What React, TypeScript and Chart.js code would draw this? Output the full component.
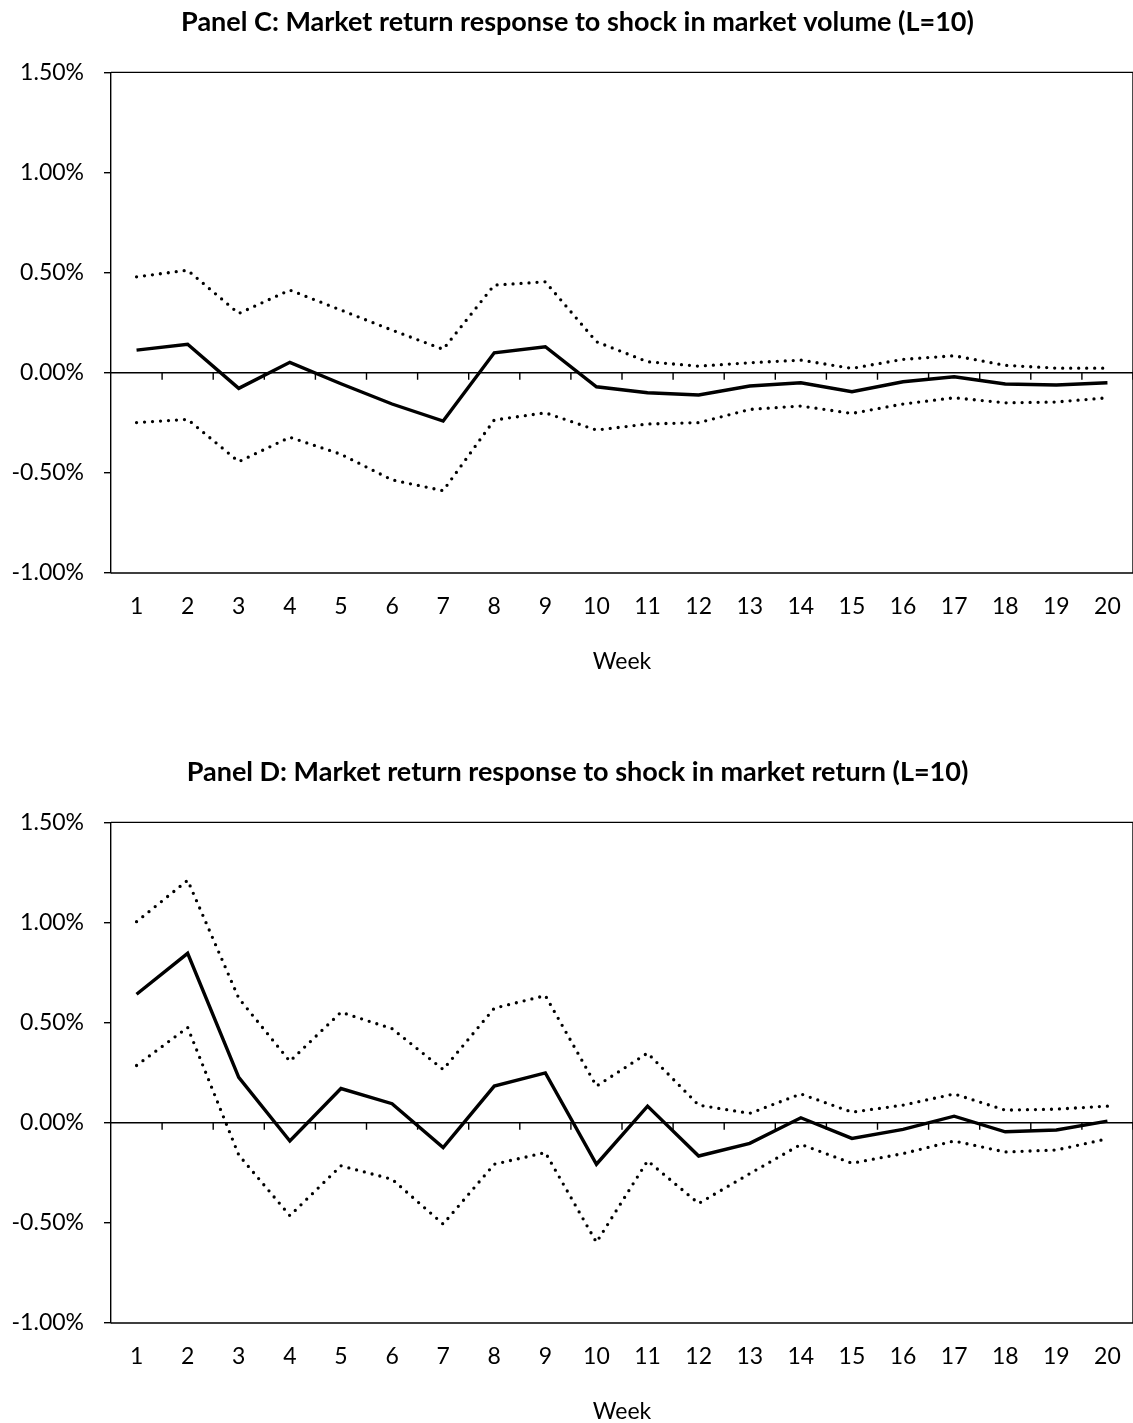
import React, { useEffect, useRef } from "react";
import { Chart, registerables } from "chart.js";

Chart.register(...registerables);

// Horizon (weeks after the shock)
const weeks = ["1", "2", "3", "4", "5", "6", "7", "8", "9", "10", "11", "12", "13", "14", "15", "16", "17", "18", "19", "20"];

// Y axis tick values (percent)
const yTicks = [-1.0, -0.5, 0.0, 0.5, 1.0, 1.5];

// Panel C: market return response to a shock in market volume (percent)
const volumeResponse = [0.113, 0.142, -0.078, 0.052, -0.055, -0.156, -0.241, 0.1, 0.13, -0.07, -0.1, -0.111, -0.066, -0.05, -0.095, -0.045, -0.02, -0.056, -0.061, -0.05];
const volumeUpper = [0.479, 0.512, 0.296, 0.413, 0.313, 0.213, 0.117, 0.438, 0.454, 0.155, 0.055, 0.033, 0.05, 0.063, 0.022, 0.067, 0.085, 0.037, 0.023, 0.023];
const volumeLower = [-0.249, -0.233, -0.444, -0.322, -0.407, -0.535, -0.589, -0.236, -0.2, -0.286, -0.256, -0.249, -0.183, -0.166, -0.203, -0.156, -0.125, -0.15, -0.146, -0.125];

// Panel D: market return response to a shock in market return (percent)
const returnResponse = [0.642, 0.846, 0.227, -0.091, 0.171, 0.095, -0.124, 0.183, 0.249, -0.207, 0.083, -0.166, -0.103, 0.025, -0.078, -0.033, 0.033, -0.045, -0.036, 0.008];
const returnUpper = [1.004, 1.211, 0.622, 0.307, 0.552, 0.47, 0.266, 0.572, 0.635, 0.183, 0.348, 0.088, 0.047, 0.144, 0.053, 0.088, 0.144, 0.063, 0.068, 0.083];
const returnLower = [0.286, 0.476, -0.161, -0.464, -0.215, -0.282, -0.506, -0.207, -0.149, -0.597, -0.19, -0.403, -0.254, -0.108, -0.202, -0.154, -0.091, -0.146, -0.136, -0.08];

const FONT = "Lato, 'Open Sans', sans-serif";
const CANVAS_W = 1155;
const CANVAS_H = 700;
const PAD_LEFT = 22;

// Plot frame, zero axis line and its category tick marks
const framePlugin = {
  id: "frame",
  afterLayout(chart: any) {
    // let the value labels use the full left margin
    chart.scales.y.left = 0;
  },
  beforeDatasetsDraw(chart: any) {
    const { ctx, chartArea, scales } = chart;
    const { left, right, top, bottom } = chartArea;
    const x = scales.x;
    const y = scales.y;
    ctx.save();
    ctx.strokeStyle = "#000";
    ctx.lineWidth = 1.4;
    ctx.beginPath();
    ctx.moveTo(left, top);
    ctx.lineTo(right, top);
    ctx.lineTo(right, bottom);
    ctx.lineTo(left, bottom);
    ctx.stroke();

    const y0 = y.getPixelForValue(0);
    const n = weeks.length;
    const half = (x.getPixelForValue(1) - x.getPixelForValue(0)) / 2;
    ctx.beginPath();
    ctx.moveTo(left, y0);
    ctx.lineTo(right, y0);
    for (let i = 0; i < n; i++) {
      const bx = x.getPixelForValue(i) + half;
      ctx.moveTo(bx, y0);
      ctx.lineTo(bx, y0 + 7);
    }
    ctx.stroke();
    ctx.restore();
  },
};

function Panel({ title, main, upper, lower, top }: { title: string; main: number[]; upper: number[]; lower: number[]; top: number }) {
  const ref = useRef<HTMLCanvasElement>(null);

  useEffect(() => {
    if (!ref.current) return;
    const bandStyle = {
      borderColor: "#000",
      borderWidth: 3.3,
      borderDash: [0, 8],
      borderCapStyle: "round" as const,
      pointRadius: 0,
      fill: false,
      tension: 0,
    };
    const chart = new Chart(ref.current, {
      type: "line",
      data: {
        labels: weeks,
        datasets: [
          { label: "Upper bound", data: upper, ...bandStyle },
          { label: "Lower bound", data: lower, ...bandStyle },
          {
            label: "Response",
            data: main,
            borderColor: "#000",
            borderWidth: 3.4,
            pointRadius: 0,
            fill: false,
            tension: 0,
          },
        ],
      },
      options: {
        responsive: false,
        animation: false,
        devicePixelRatio: 1,
        layout: { padding: { left: PAD_LEFT, right: CANVAS_W - 1133, top: 0, bottom: 0 } },
        plugins: {
          legend: { display: false },
          tooltip: { enabled: false },
          title: {
            display: true,
            text: title,
            color: "#000",
            font: { family: FONT, size: 27, weight: "bold", lineHeight: 1.2 },
            padding: { top: 6, bottom: 34 },
          },
        },
        scales: {
          x: {
            type: "category",
            offset: true,
            grid: { display: false, drawTicks: false },
            border: { display: false },
            ticks: {
              color: "#000",
              font: { family: FONT, size: 23, lineHeight: 1.2 },
              padding: 20,
              maxRotation: 0,
              autoSkip: false,
            },
            title: {
              display: true,
              text: "Week",
              color: "#000",
              font: { family: FONT, size: 23, lineHeight: 1.2 },
              padding: { top: 0, bottom: 25 },
            },
            afterFit(scale: any) {
              scale.height = 127;
            },
          },
          y: {
            min: yTicks[0],
            max: yTicks[yTicks.length - 1],
            afterBuildTicks(scale: any) {
              scale.ticks = yTicks.map((v) => ({ value: v }));
            },
            grid: {
              drawOnChartArea: false,
              drawTicks: true,
              tickLength: 7,
              color: "#000",
              lineWidth: 1.4,
            },
            border: { display: true, color: "#000", width: 1.4 },
            ticks: {
              color: "#000",
              font: { family: FONT, size: 23 },
              padding: 20,
              callback: (v: any) => Number(v).toFixed(2) + "%",
            },
            afterFit(scale: any) {
              scale.width = 111 - PAD_LEFT;
            },
          },
        },
      } as any,
      plugins: [framePlugin],
    });
    return () => chart.destroy();
  }, [title, main, upper, lower]);

  return (
    <div style={{ position: "absolute", left: 0, top, width: CANVAS_W, height: CANVAS_H }}>
      <canvas ref={ref} width={CANVAS_W} height={CANVAS_H} style={{ width: CANVAS_W, height: CANVAS_H, display: "block" }} />
    </div>
  );
}

export default function App() {
  useEffect(() => {
    document.body.style.margin = "0";
    document.body.style.background = "#fff";
  }, []);
  return (
    <div style={{ position: "relative", width: 1133, height: 1423, overflow: "hidden", background: "#fff" }}>
      <Panel
        title="Panel C: Market return response to shock in market volume (L=10)"
        main={volumeResponse}
        upper={volumeUpper}
        lower={volumeLower}
        top={0}
      />
      <Panel
        title="Panel D: Market return response to shock in market return (L=10)"
        main={returnResponse}
        upper={returnUpper}
        lower={returnLower}
        top={750}
      />
    </div>
  );
}
